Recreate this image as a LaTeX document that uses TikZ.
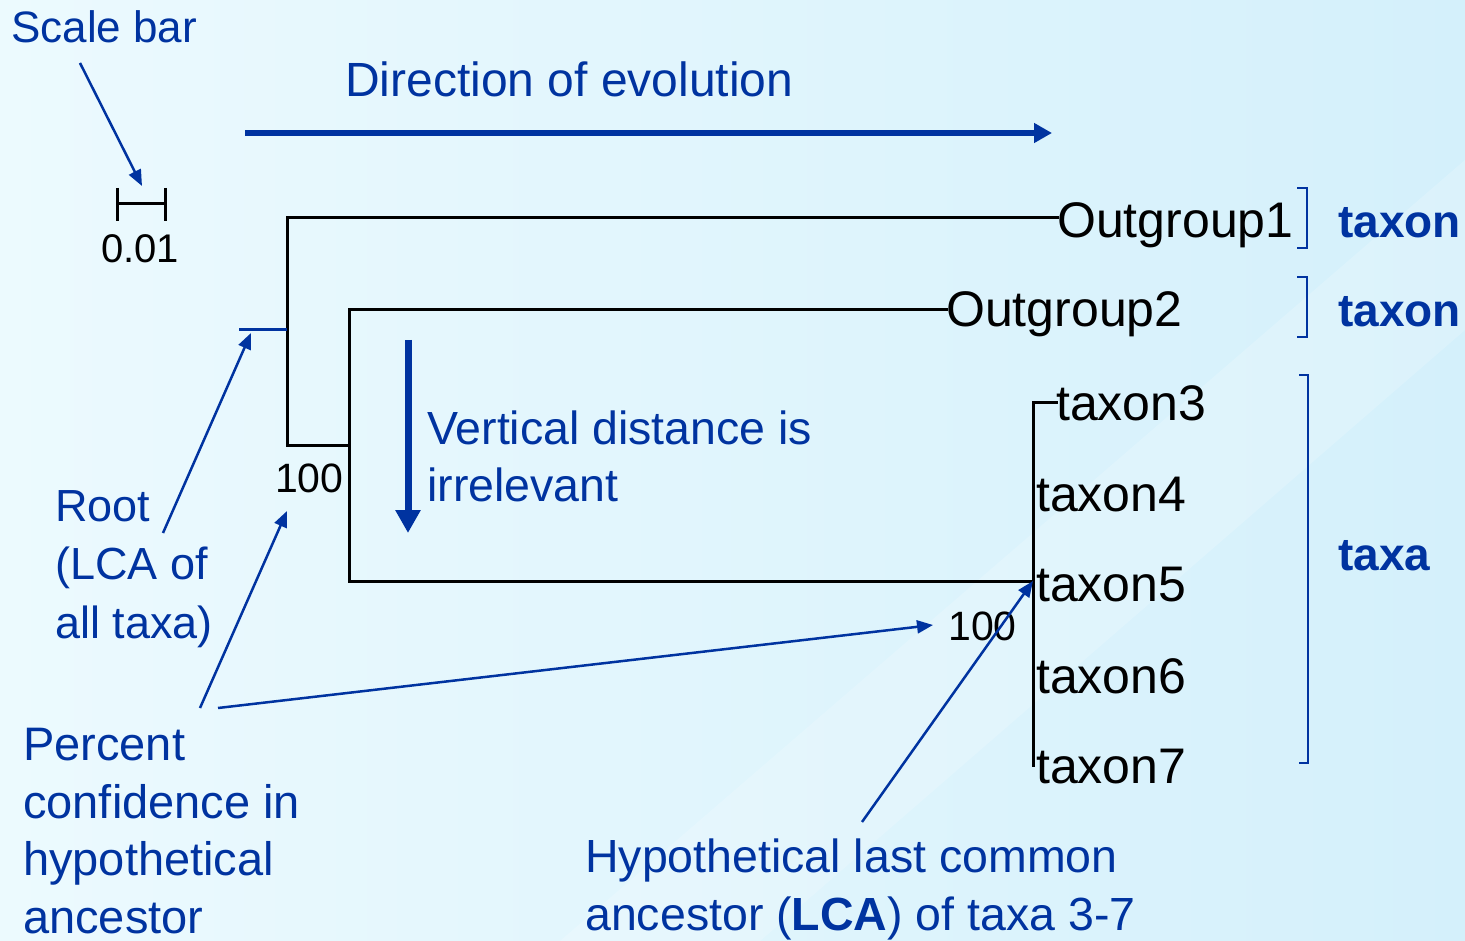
\documentclass[tikz,border=0pt]{standalone}
\usepackage{fontspec}
\setmainfont{Liberation Sans}
\usetikzlibrary{arrows.meta}
\definecolor{dblue}{RGB}{0,51,160}
\definecolor{bgA}{RGB}{236,250,254}
\definecolor{bgB}{RGB}{212,240,251}
\begin{document}
\begin{tikzpicture}[x=1pt,y=-1pt,
  tree/.style={line width=3pt, black, line cap=rect},
  blab/.style={text=dblue, font=\fontsize{47}{57.5}\selectfont, inner sep=0pt, align=left},
  tlab/.style={text=black, font=\fontsize{50}{60}\selectfont, inner sep=0pt},
  num/.style={text=black, font=\fontsize{41}{49}\selectfont, inner sep=0pt},
  bold/.style={text=dblue, font=\fontsize{46}{55}\selectfont\bfseries, inner sep=0pt},
  ptr/.style={dblue, line width=2.5pt, -{Triangle[length=16pt,width=13pt]}},
  brk/.style={dblue, line width=1.8pt}]
\shade[left color=bgA, right color=bgB] (0,0) rectangle (1465,941);
\fill[white, opacity=0.18] (560,941) -- (760,941) -- (1465,330) -- (1465,160) -- cycle;
\useasboundingbox (0,0) rectangle (1465,941);

% scale bar
\node[blab, anchor=base west, font=\fontsize{44}{53}\selectfont] (scale) at (11,43) {Scale bar};
\coordinate (sa) at (80,63);
\coordinate (sb) at (142,186);
\draw[ptr] (sa) -- (sb);
\draw[line width=3pt, black] (117,188) -- (117,221) (117,204) -- (165,204) (165,188) -- (165,221);
\node[num, anchor=base, font=\fontsize{40}{48}\selectfont] (sval) at (140,263) {0.01};

% direction of evolution
\node[blab, anchor=base west, font=\fontsize{48}{58}\selectfont] (dir) at (345,97) {Direction of evolution};
\coordinate (d1) at (245,133);
\coordinate (d2) at (1052,133);
\draw[dblue, line width=6pt, -{Triangle[length=18pt,width=19pt]}] (d1) -- (d2);

% labels of taxa
\node[tlab, anchor=base west] (og1) at (1057,238) {Outgroup1};
\node[tlab, anchor=base west] (og2) at (946,327) {Outgroup2};
\node[tlab, anchor=base west] (t3) at (1056,420) {taxon3};
\node[tlab, anchor=base west] (t4) at (1036,511) {taxon4};
\node[tlab, anchor=base west] (t5) at (1036,601) {taxon5};
\node[tlab, anchor=base west] (t6) at (1036,693) {taxon6};
\node[tlab, anchor=base west] (t7) at (1036,783) {taxon7};

% tree
\coordinate (A) at (287,218);
\coordinate (B) at (287,445);
\coordinate (C) at (349,445);
\coordinate (D) at (349,310);
\coordinate (E) at (349,581);
\coordinate (F) at (1033,581);
\coordinate (G) at (1033,402);
\coordinate (H) at (1033,765);
\draw[tree] (og1.west |- A) -- (A) -- (B) -- (C);
\draw[tree] (og2.west |- D) -- (D) -- (E) -- (F);
\draw[tree] (t3.west |- G) -- (G) -- (H);
\coordinate (R0) at (239,330);
\coordinate (R1) at (287,330);
\draw[dblue, line width=3pt] (R0) -- (R1);

\node[num, anchor=base west] (b1) at (275,492) {100};
\node[num, anchor=base west] (b2) at (948,640) {100};

% vertical distance
\coordinate (v1) at (408,340);
\coordinate (v2) at (408,533);
\draw[dblue, line width=7pt, -{Triangle[length=23pt,width=24pt]}] (v1) -- (v2);
\node[blab, anchor=north west, font=\fontsize{46.5}{57}\selectfont] (vert) at (427,411) {Vertical distance is\\irrelevant};

% brackets
\draw[brk] (1297,188) -- (1307,188) -- (1307,248) -- (1297,248);
\draw[brk] (1297,277) -- (1307,277) -- (1307,337) -- (1297,337);
\draw[brk] (1299,375) -- (1308,375) -- (1308,763) -- (1299,763);
\node[bold, anchor=base west] (tx1) at (1338,238) {taxon};
\node[bold, anchor=base west] (tx2) at (1338,327) {taxon};
\node[bold, anchor=base west] (txa) at (1338,570) {taxa};

% root
\node[blab, anchor=north west, font=\fontsize{45}{58.5}\selectfont] (root) at (55,490) {Root\\(LCA of\\all taxa)};
\coordinate (ra) at (163,533);
\coordinate (rb) at (251,333);
\draw[ptr] (ra) -- (rb);

% percent confidence
\node[blab, anchor=north west] (pc) at (23,728) {Percent\\confidence in\\hypothetical\\ancestor};
\coordinate (pa) at (200,708);
\coordinate (pb) at (287,511);
\coordinate (pc1) at (218,708);
\coordinate (pc2) at (933,625);
\draw[ptr] (pa) -- (pb);
\draw[ptr] (pc1) -- (pc2);

% LCA
\node[blab, anchor=north west, font=\fontsize{46.5}{58}\selectfont] (lca) at (585,839) {Hypothetical last common\\ancestor (\textbf{LCA}) of taxa 3-7};
\coordinate (la) at (862,822);
\draw[ptr] (la) -- (F);
\end{tikzpicture}
\end{document}
